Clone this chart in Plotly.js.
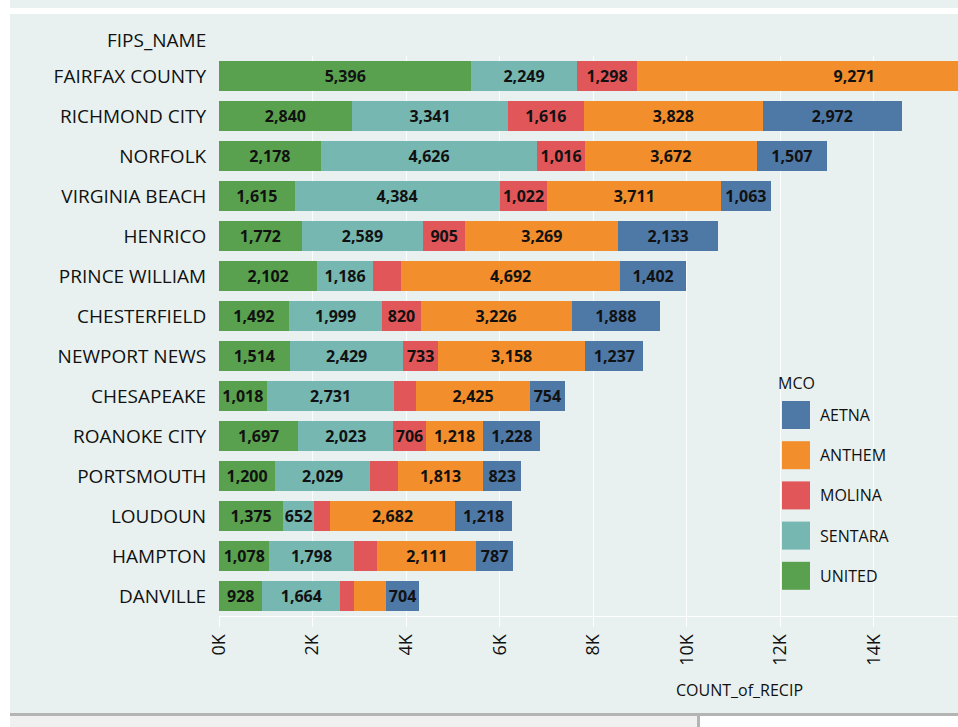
<!DOCTYPE html>
<html>
<head>
<meta charset="utf-8">
<script src="https://cdn.plot.ly/plotly-3.0.1.min.js"></script>
<style>html,body{margin:0;padding:0;background:#fff;}#chart{width:958px;height:727px;}</style>
</head>
<body>
<div id="chart"></div>
<script>
// ---- data ----
const counties = ["FAIRFAX COUNTY","RICHMOND CITY","NORFOLK","VIRGINIA BEACH","HENRICO","PRINCE WILLIAM","CHESTERFIELD","NEWPORT NEWS","CHESAPEAKE","ROANOKE CITY","PORTSMOUTH","LOUDOUN","HAMPTON","DANVILLE"];
const united  = [5396,2840,2178,1615,1772,2102,1492,1514,1018,1697,1200,1375,1078,928];
const sentara = [2249,3341,4626,4384,2589,1186,1999,2429,2731,2023,2029,652,1798,1664];
const molina  = [1298,1616,1016,1022,905,600,820,733,470,706,600,340,510,300];
const anthem  = [9271,3828,3672,3711,3269,4692,3226,3158,2425,1218,1813,2682,2111,680];
const aetna   = [null,2972,1507,1063,2133,1402,1888,1237,754,1228,823,1218,787,704];
const mcoNames = ["AETNA","ANTHEM","MOLINA","SENTARA","UNITED"];
const hiddenLabels = {
  MOLINA: ["PRINCE WILLIAM","CHESAPEAKE","PORTSMOUTH","LOUDOUN","HAMPTON","DANVILLE"],
  ANTHEM: ["DANVILLE"]
};
const tickValues = [0,2000,4000,6000,8000,10000,12000,14000];
const tickLabels = ["0K","2K","4K","6K","8K","10K","12K","14K"];

// ---- styling ----
const colors = {AETNA:"#4e79a7", ANTHEM:"#f28e2b", MOLINA:"#e15759", SENTARA:"#76b7b2", UNITED:"#59a14f"};
const panel = "#e8f1ef";
const W = 958, H = 727, L = 219, R = 0, T = 56, B = 111;
const pw = W - L - R, ph = H - T - B;
const px = v => (v - L) / pw;
const py = v => (H - B - v) / ph;
const fmt = v => v == null ? "" : v.toLocaleString("en-US");

const seriesByName = {UNITED: united, SENTARA: sentara, MOLINA: molina, ANTHEM: anthem, AETNA: aetna};
const stackOrder = ["UNITED","SENTARA","MOLINA","ANTHEM","AETNA"];

const traces = stackOrder.map(name => {
  const vals = seriesByName[name];
  const hidden = hiddenLabels[name] || [];
  return {
    type: "bar",
    orientation: "h",
    name: name,
    y: counties,
    x: vals,
    text: vals.map((v, i) => hidden.includes(counties[i]) ? "" : fmt(v)),
    textposition: "inside",
    insidetextanchor: "middle",
    textangle: 0,
    constraintext: "none",
    texttemplate: "%{text}",
    textfont: {family: "Open Sans", size: 16, color: "#111", weight: "bold"},
    marker: {color: colors[name], line: {width: 0}},
    hoverinfo: "none"
  };
});

const shapes = [];
const annotations = [];

// page frame (white borders / footer strip)
function rectPx(x0, y0, x1, y1, color) {
  shapes.push({type: "rect", xref: "paper", yref: "paper", x0: px(x0), x1: px(x1), y0: py(y1), y1: py(y0),
    fillcolor: color, line: {width: 0}, layer: "above"});
}
rectPx(0, 0, 10, H, "#ffffff");
rectPx(10, 8, W, 14, "#ffffff");
rectPx(10, 713, W, 716, "#b4b4b4");
rectPx(10, 716, 697, H, "#f0f0f0");
rectPx(697, 716, 700, H, "#b4b4b4");
rectPx(700, 716, W, H, "#ffffff");

// header for the category axis
annotations.push({xref: "paper", yref: "paper", x: px(208), y: py(40), xanchor: "right", yanchor: "middle",
  text: "FIPS_NAME", showarrow: false, font: {family: "Open Sans", size: 19, color: "#111"}});
// x-axis title
annotations.push({xref: "paper", yref: "paper", x: px(739), y: py(690), xanchor: "center", yanchor: "middle",
  text: "COUNT_of_RECIP", showarrow: false, font: {family: "Open Sans", size: 16, color: "#111"}});

// legend
annotations.push({xref: "paper", yref: "paper", x: px(776), y: py(383), xanchor: "left", yanchor: "middle",
  text: "MCO", showarrow: false, font: {family: "Open Sans", size: 16, color: "#111"}});
mcoNames.forEach((name, k) => {
  const cy = 415 + k * 40.2;
  shapes.push({type: "rect", xref: "paper", yref: "paper", x0: px(782), x1: px(810), y0: py(cy + 14), y1: py(cy - 14),
    fillcolor: colors[name], line: {width: 0}, layer: "above"});
  annotations.push({xref: "paper", yref: "paper", x: px(818), y: py(cy), xanchor: "left", yanchor: "middle",
    text: name, showarrow: false, font: {family: "Open Sans", size: 16, color: "#111"}});
});

const layout = {
  width: W, height: H,
  margin: {l: L, r: R, t: T, b: B, pad: 0},
  paper_bgcolor: panel,
  plot_bgcolor: panel,
  barmode: "stack",
  bargap: 0.25,
  showlegend: false,
  font: {family: "Open Sans", color: "#111"},
  xaxis: {
    range: [0, (pw) / 46.78 * 1000],
    tickmode: "array", tickvals: tickValues, ticktext: tickLabels,
    tickangle: -90,
    tickfont: {family: "Open Sans", size: 18, color: "#111"},
    showgrid: true, gridcolor: "rgba(255,255,255,0.9)", gridwidth: 1,
    ticks: "outside", ticklen: 10, tickcolor: "rgba(255,255,255,0.9)", tickwidth: 1,
    showline: true, linecolor: "rgba(255,255,255,0.95)", linewidth: 1,
    zeroline: false, fixedrange: true
  },
  yaxis: {
    type: "category", categoryorder: "array", categoryarray: counties,
    autorange: "reversed",
    tickfont: {family: "Open Sans", size: 19, color: "#111"},
    ticks: "outside", ticklen: 8, tickcolor: "rgba(0,0,0,0)",
    showgrid: false, zeroline: false, showline: false, fixedrange: true
  },
  shapes: shapes,
  annotations: annotations
};

Plotly.newPlot("chart", traces, layout, {displayModeBar: false, staticPlot: true});
</script>
</body>
</html>
